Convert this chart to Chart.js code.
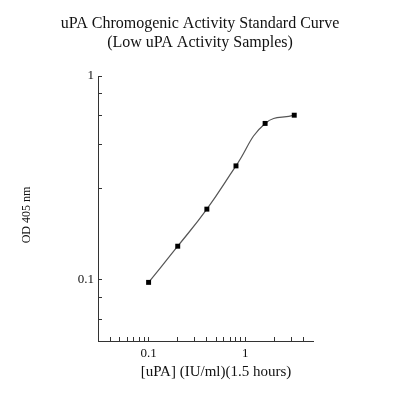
<!DOCTYPE html>
<html>
<head>
<meta charset="utf-8">
<script src="https://cdn.jsdelivr.net/npm/chart.js@4/dist/chart.umd.min.js"></script>
<style>
  html, body { margin: 0; padding: 0; background: #fff; }
  #chart { display: block; }
</style>
</head>
<body>
<canvas id="chart" width="397" height="397"></canvas>
<script>
// uPA standard curve (low activity samples)
const UPA_DOSES = [0.1, 0.2, 0.4, 0.8, 1.6, 3.2];
const OD_VALUES = [0.097, 0.146, 0.222, 0.362, 0.585, 0.642];

// Tick positions: only the decades carry a label
const X_TICKS = [0.04, 0.05, 0.06, 0.07, 0.08, 0.09, 0.1, 0.2, 0.3, 0.4, 0.5, 0.6, 0.7, 0.8, 0.9, 1, 2, 3, 4];
const Y_TICKS = [0.064, 0.082, 0.1, 0.28, 0.46, 0.64, 0.82, 1];
const TICK_LABELS = [0.1, 1];

const TITLE_LINES = ['uPA Chromogenic Activity Standard Curve', '(Low uPA Activity Samples)'];
const X_CAPTION = '[uPA] (IU/ml)(1.5 hours)';
const Y_CAPTION = 'OD 405 nm';

const SERIF = "'Liberation Serif', 'Times New Roman', serif";
const AXIS_COLOR = '#333';

// title + axis captions are placed relative to the page, not the plot box
const captionPlugin = {
    id: 'captions',
    afterDraw(chart) {
        const ctx = chart.ctx;
        ctx.save();
        ctx.fillStyle = '#111';
        ctx.textAlign = 'center';
        ctx.textBaseline = 'middle';
        ctx.font = `16px ${SERIF}`;
        TITLE_LINES.forEach((line, i) => ctx.fillText(line, 200, 24 + i * 19));
        ctx.font = `15px ${SERIF}`;
        ctx.fillText(X_CAPTION, 216, 372);
        ctx.translate(27, 215);
        ctx.rotate(-Math.PI / 2);
        ctx.font = `12px ${SERIF}`;
        ctx.fillText(Y_CAPTION, 0, 0);
        ctx.restore();
    }
};

function fixedTicks(values) {
    return scale => { scale.ticks = values.map(v => ({ value: v })); };
}

function tickLabel(value) {
    return TICK_LABELS.includes(value) ? String(value) : '';
}

new Chart(document.getElementById('chart'), {
    type: 'line',
    data: {
        datasets: [{
            data: UPA_DOSES.map((x, i) => ({ x, y: OD_VALUES[i] })),
            borderColor: '#555',
            borderWidth: 1.2,
            tension: 0.45,
            pointStyle: 'rect',
            pointRadius: 3.5,
            pointBackgroundColor: '#000',
            pointBorderColor: '#000',
            pointBorderWidth: 0,
        }],
    },
    options: {
        responsive: false,
        animation: false,
        devicePixelRatio: 1,
        layout: { padding: { left: 0, right: 84, top: 76, bottom: 0 } },
        plugins: {
            legend: { display: false },
            tooltip: { enabled: false },
            title: { display: false },
        },
        scales: {
            x: {
                type: 'logarithmic',
                min: 0.03,
                max: 5,
                afterBuildTicks: fixedTicks(X_TICKS),
                afterFit: s => { s.height = 56; },
                border: { display: true, color: AXIS_COLOR, width: 1 },
                grid: { drawOnChartArea: false, tickLength: -4, color: AXIS_COLOR },
                ticks: {
                    autoSkip: false, maxRotation: 0, padding: 9,
                    color: '#111', font: { family: SERIF, size: 13 },
                    callback: tickLabel,
                },
            },
            y: {
                type: 'logarithmic',
                min: 0.05,
                max: 1,
                afterBuildTicks: fixedTicks(Y_TICKS),
                afterFit: s => { s.width = 98; },
                border: { display: true, color: AXIS_COLOR, width: 1 },
                grid: { drawOnChartArea: false, tickLength: -4, color: AXIS_COLOR },
                ticks: {
                    autoSkip: false, padding: 8,
                    color: '#111', font: { family: SERIF, size: 13 },
                    callback: tickLabel,
                },
            },
        },
    },
    plugins: [captionPlugin],
});
</script>
</body>
</html>
